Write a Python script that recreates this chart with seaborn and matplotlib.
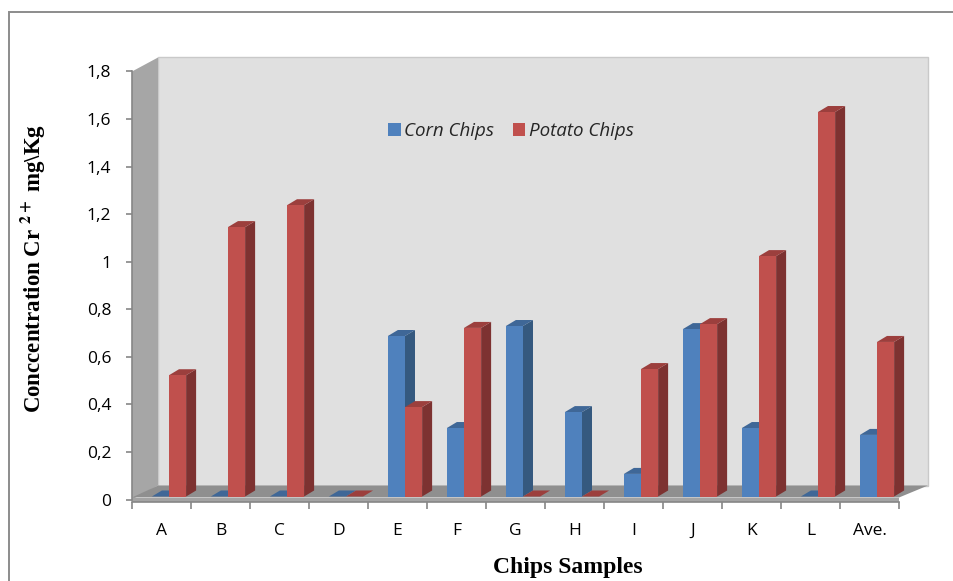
import matplotlib
matplotlib.use("Agg")
import matplotlib.pyplot as plt
import pandas as pd
import seaborn as sns
from matplotlib.patches import Patch, Polygon, Rectangle

# values
samples = ["A", "B", "C", "D", "E", "F", "G", "H", "I", "J", "K", "L", "Ave."]
corn = [0, 0, 0, 0, 0.675, 0.288, 0.717, 0.355, 0.095, 0.704, 0.288, 0, 0.259]
potato = [0.51, 1.133, 1.225, 0, 0.376, 0.709, 0, 0, 0.536, 0.725, 1.011, 1.617, 0.65]
y_ticks = [0, 0.2, 0.4, 0.6, 0.8, 1, 1.2, 1.4, 1.6, 1.8]
y_labels = ["0", "0,2", "0,4", "0,6", "0,8", "1", "1,2", "1,4", "1,6", "1,8"]

sns.set_theme(style="white")
plt.rcParams["font.family"] = ["Open Sans", "DejaVu Sans"]
plt.rcParams["mathtext.fontset"] = "stix"

W, H = 954, 581
fig = plt.figure(figsize=(W / 100, H / 100), dpi=100)
ax = fig.add_axes([132 / W, 1 - 499.5 / H, 767 / W, 428 / H])

df = pd.DataFrame({
    "sample": samples * 2,
    "value": corn + potato,
    "kind": ["Corn Chips"] * len(samples) + ["Potato Chips"] * len(samples),
})
colors = {"Corn Chips": "#4f81bd", "Potato Chips": "#c0504d"}
sns.barplot(data=df, x="sample", y="value", hue="kind", palette=colors, order=samples,
            width=0.58, gap=0, saturation=1, legend=False, ax=ax)

ax.set_xlim(-0.5, len(samples) - 0.5)
ax.set_ylim(0, 1.8)

# pixel sizes to data units
px_x = len(samples) / 767
px_y = 1.8 / 428

# fake 3d box behind the bars
wall_dx, wall_dy = 26 * px_x, 14 * px_y
x0, x1 = ax.get_xlim()
x_back = x1 + 29 * px_x
ax.add_patch(Rectangle((x0 + wall_dx, wall_dy), x_back - x0 - wall_dx, 1.8, fc="#e0e0e0", ec="#c9c9c9", lw=1,
                       clip_on=False, zorder=0.5))
ax.add_patch(Polygon([(x0, 0), (x0 + wall_dx, wall_dy), (x0 + wall_dx, 1.8 + wall_dy), (x0, 1.8)],
                     fc="#a6a6a6", ec="none", clip_on=False, zorder=0.6))
ax.add_patch(Polygon([(x0, 2 * px_y), (x0 + wall_dx, wall_dy), (x_back, wall_dy), (x1, 2 * px_y)],
                     fc="#8f8f8f", ec="none", clip_on=False, zorder=0.7))
ax.add_patch(Rectangle((x0, -2 * px_y), x1 - x0, 4 * px_y, fc="#a3a3a3", ec="none", clip_on=False, zorder=0.8))

# shift seaborn's bars into the box and add side and top faces
side_dx, side_dy = 10 * px_x, 6 * px_y
shift_x, shift_y = 7.5 * px_x, 3 * px_y
shades = {"#4f81bd": ("#35597f", "#3f6797"), "#c0504d": ("#7d3231", "#9c3f3d")}
bars = [p for p in ax.patches if isinstance(p, Rectangle) and p.get_width() < 0.4]
for b in bars:
    b.set_x(b.get_x() + shift_x)
    b.set_y(shift_y)
    b.set_clip_on(False)
    b.set_linewidth(0)
    left, right = b.get_x(), b.get_x() + b.get_width()
    base, top = shift_y, shift_y + b.get_height()
    face = matplotlib.colors.to_hex(b.get_facecolor())
    side, cap = shades[face]
    z = 3 + (2 if face == "#c0504d" else 0) + left * 0.001
    b.set_zorder(z + 0.2)
    ax.add_patch(Polygon([(right, base), (right + side_dx, base + side_dy),
                          (right + side_dx, top + side_dy), (right, top)],
                         fc=side, ec="none", clip_on=False, zorder=z))
    ax.add_patch(Polygon([(left, top), (left + side_dx, top + side_dy),
                          (right + side_dx, top + side_dy), (right, top)],
                         fc=cap, ec="none", clip_on=False, zorder=z + 0.1))

# axes, ticks
for name in ["top", "right"]:
    ax.spines[name].set_visible(False)
for name in ["left", "bottom"]:
    ax.spines[name].set_color("#868686")
    ax.spines[name].set_linewidth(1.2)
    ax.spines[name].set_zorder(1)
ax.spines["bottom"].set_position(("outward", 2))

ax.set_yticks(y_ticks)
ax.set_yticklabels(y_labels, fontsize=12.5, color="black")
ax.tick_params(axis="y", length=4.5, width=1.2, color="#868686", left=True, pad=10.5)
ax.set_xticks([i - 0.5 for i in range(len(samples) + 1)], minor=True)
ax.set_xticks(range(len(samples)))
ax.set_xticklabels(samples, fontsize=12.5, color="black")
ax.tick_params(axis="x", which="minor", length=5, width=1.2, color="#868686", bottom=True)
ax.tick_params(axis="x", which="major", length=0, pad=15)
ax.set_xlabel("")
ax.set_ylabel("")

handles = [Patch(fc=colors[k], ec="none", label=k) for k in colors]
leg = ax.legend(handles=handles, loc="center left", bbox_to_anchor=((379 - 132) / 767, (499.5 - 131) / 428),
                ncols=2, frameon=False, borderpad=0, handlelength=0.66, handleheight=0.66,
                handletextpad=0.18, columnspacing=1.0, prop={"style": "italic", "size": 13.5})
leg.set_zorder(2)

fig.text(33 / W, 1 - 268 / H, r"Conccentration Cr $\mathbf{^{2+}}$ mg\Kg", rotation=90, ha="center", va="center",
         family="Liberation Serif", weight="bold", fontsize=16.5, color="black")
fig.text(568 / W, 1 - 567 / H, "Chips Samples", ha="center", va="center",
         family="Liberation Serif", weight="bold", fontsize=17, color="black")

# chart frame
fig.add_artist(Rectangle((9.5 / W, -0.1), 1.1, 1 - 12 / H + 0.1, transform=fig.transFigure,
                         fc="none", ec="#8c8c8c", lw=1.4))

fig.savefig("out.png", dpi=100)
